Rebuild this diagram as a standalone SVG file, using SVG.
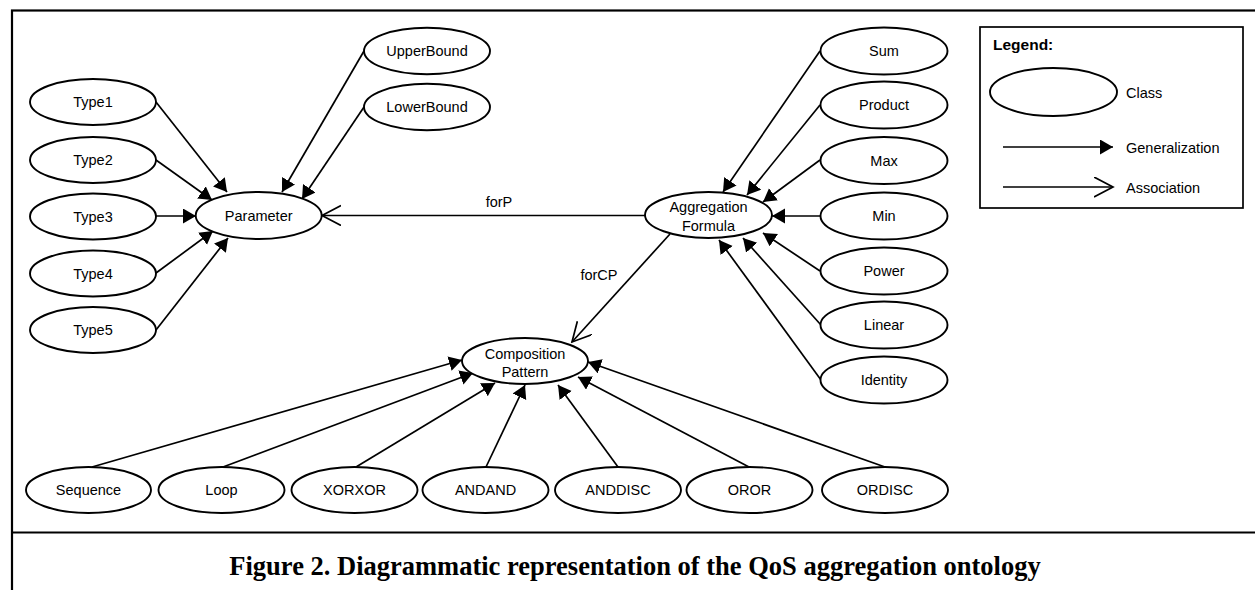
<svg xmlns="http://www.w3.org/2000/svg" width="1255" height="590" viewBox="0 0 1255 590">
<style>
.n ellipse{fill:#fff;stroke:#000;stroke-width:1.9}
.n text,.lbl{font-family:"Liberation Sans",Arial,sans-serif;font-size:14.5px;fill:#000;text-anchor:middle}
.g{stroke:#000;stroke-width:1.7;fill:none;marker-end:url(#gen)}
.a{stroke:#000;stroke-width:1.7;fill:none;marker-end:url(#asc)}
.frame{fill:none;stroke:#000;stroke-width:2.2}
.lt{font-family:"Liberation Sans",Arial,sans-serif;font-size:14.5px;fill:#000}
.cap{font-family:"Liberation Serif","Times New Roman",serif;font-size:26.5px;font-weight:bold;fill:#000;text-anchor:middle}
</style>
<defs>
<marker id="gen" markerUnits="userSpaceOnUse" markerWidth="16" markerHeight="18" refX="13" refY="7.5" orient="auto" viewBox="0 0 16 18">
<path d="M0,0 L13,7.5 L0,15 z" fill="#000"/>
</marker>
<marker id="asc" markerUnits="userSpaceOnUse" markerWidth="22" markerHeight="24" refX="19" refY="10" orient="auto" viewBox="0 0 22 24">
<path d="M0,0 L19,10 L0,20" fill="none" stroke="#000" stroke-width="1.7"/>
</marker>
</defs>
<rect width="1255" height="590" fill="#fff"/>
<rect class="frame" x="12" y="10.5" width="1270" height="600"/>
<line x1="12" y1="532.5" x2="1255" y2="532.5" stroke="#000" stroke-width="2.2"/>
<text class="cap" x="635" y="575">Figure 2. Diagrammatic representation of the QoS aggregation ontology</text>

<g id="connectors">
<line class="g" x1="156" y1="102" x2="227" y2="192"/>
<line class="g" x1="156" y1="160" x2="212" y2="200"/>
<line class="g" x1="156" y1="216" x2="196" y2="216"/>
<line class="g" x1="156" y1="273" x2="213" y2="231"/>
<line class="g" x1="156" y1="330" x2="228" y2="238"/>
<line class="g" x1="364" y1="51" x2="282" y2="192"/>
<line class="g" x1="364" y1="107" x2="302" y2="199"/>
<line class="g" x1="820" y1="51" x2="723" y2="192"/>
<line class="g" x1="820" y1="105" x2="747" y2="195"/>
<line class="g" x1="820" y1="160" x2="763" y2="202"/>
<line class="g" x1="820" y1="216" x2="772" y2="216"/>
<line class="g" x1="820" y1="271" x2="763" y2="233"/>
<line class="g" x1="821" y1="325" x2="743" y2="238"/>
<line class="g" x1="821" y1="380" x2="719" y2="240"/>
<line class="g" x1="92" y1="467" x2="462" y2="360"/>
<line class="g" x1="223" y1="467" x2="473" y2="373"/>
<line class="g" x1="356" y1="467" x2="495" y2="383"/>
<line class="g" x1="486" y1="467" x2="525" y2="385"/>
<line class="g" x1="618" y1="467" x2="558" y2="385"/>
<line class="g" x1="749" y1="467" x2="578" y2="377"/>
<line class="g" x1="885" y1="467" x2="588" y2="362"/>
<line class="a" x1="645" y1="215.5" x2="322" y2="215.5"/>
<line class="a" x1="670" y1="234" x2="572" y2="342"/>
<text class="lbl" x="499" y="207">forP</text>
<text class="lbl" x="599" y="280">forCP</text>
</g>

<g id="Type1" class="n"><ellipse cx="93" cy="102" rx="63" ry="23"/><text x="93" y="107">Type1</text></g>
<g id="Type2" class="n"><ellipse cx="93" cy="160" rx="63" ry="23"/><text x="93" y="165">Type2</text></g>
<g id="Type3" class="n"><ellipse cx="93" cy="216.5" rx="63" ry="23"/><text x="93" y="221.5">Type3</text></g>
<g id="Type4" class="n"><ellipse cx="93" cy="273.5" rx="63" ry="23"/><text x="93" y="278.5">Type4</text></g>
<g id="Type5" class="n"><ellipse cx="93" cy="330" rx="63" ry="23"/><text x="93" y="335">Type5</text></g>
<g id="Parameter" class="n"><ellipse cx="258.7" cy="215.5" rx="63" ry="23.5"/><text x="258.7" y="221">Parameter</text></g>
<g id="UpperBound" class="n"><ellipse cx="427" cy="51" rx="63" ry="23.3"/><text x="427" y="56">UpperBound</text></g>
<g id="LowerBound" class="n"><ellipse cx="427" cy="107" rx="63" ry="23.3"/><text x="427" y="112">LowerBound</text></g>
<g id="AggregationFormula" class="n"><ellipse cx="708.5" cy="215" rx="63.5" ry="23"/><text x="708.5" y="212">Aggregation</text><text x="708.5" y="231">Formula</text></g>
<g id="Sum" class="n"><ellipse cx="884" cy="51" rx="63.5" ry="23.5"/><text x="884" y="56">Sum</text></g>
<g id="Product" class="n"><ellipse cx="884" cy="105" rx="63.5" ry="23.5"/><text x="884" y="110">Product</text></g>
<g id="Max" class="n"><ellipse cx="884" cy="160.5" rx="63.5" ry="23.5"/><text x="884" y="165.5">Max</text></g>
<g id="Min" class="n"><ellipse cx="884" cy="216" rx="63.5" ry="23.5"/><text x="884" y="221">Min</text></g>
<g id="Power" class="n"><ellipse cx="884" cy="271" rx="63.5" ry="23.5"/><text x="884" y="276">Power</text></g>
<g id="Linear" class="n"><ellipse cx="884" cy="325" rx="63.5" ry="23.5"/><text x="884" y="330">Linear</text></g>
<g id="Identity" class="n"><ellipse cx="884" cy="380" rx="63.5" ry="23.5"/><text x="884" y="385">Identity</text></g>
<g id="CompositionPattern" class="n"><ellipse cx="525" cy="361" rx="63" ry="23"/><text x="525" y="359">Composition</text><text x="525" y="377">Pattern</text></g>
<g id="Sequence" class="n"><ellipse cx="88.5" cy="490" rx="62.5" ry="23"/><text x="88.5" y="495">Sequence</text></g>
<g id="Loop" class="n"><ellipse cx="221.5" cy="490" rx="63" ry="23"/><text x="221.5" y="495">Loop</text></g>
<g id="XORXOR" class="n"><ellipse cx="354.5" cy="490" rx="63" ry="23"/><text x="354.5" y="495">XORXOR</text></g>
<g id="ANDAND" class="n"><ellipse cx="485.5" cy="490" rx="63" ry="23"/><text x="485.5" y="495">ANDAND</text></g>
<g id="ANDDISC" class="n"><ellipse cx="618" cy="490" rx="63" ry="23"/><text x="618" y="495">ANDDISC</text></g>
<g id="OROR" class="n"><ellipse cx="749.5" cy="490" rx="63" ry="23"/><text x="749.5" y="495">OROR</text></g>
<g id="ORDISC" class="n"><ellipse cx="885" cy="490" rx="63" ry="23"/><text x="885" y="495">ORDISC</text></g>

<g id="legend">
<rect x="980" y="27" width="263" height="181" fill="#fff" stroke="#000" stroke-width="1.7"/>
<text class="lt" x="993" y="50" style="font-weight:bold;font-size:15.5px">Legend:</text>
<g class="n"><ellipse cx="1053.5" cy="92" rx="63.5" ry="24"/></g>
<text class="lt" x="1126" y="97.5">Class</text>
<line class="g" x1="1003" y1="147" x2="1113" y2="147"/>
<text class="lt" x="1126" y="152.5">Generalization</text>
<line class="a" x1="1003" y1="187" x2="1113" y2="187"/>
<text class="lt" x="1126" y="192.5">Association</text>
</g>
</svg>
